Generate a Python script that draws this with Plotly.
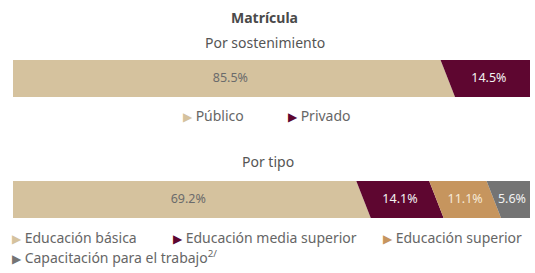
import plotly.graph_objects as go

# ---- data ----
sost_labels = ["Público", "Privado"]
sost_values = [85.5, 14.5]
sost_colors = ["#D5C29E", "#5E0630"]
sost_text_colors = ["#6b6b6b", "#f2f2f2"]

tipo_labels = ["Educación básica", "Educación media superior", "Educación superior",
               "Capacitación para el trabajo<sup>2/</sup>"]
tipo_values = [69.2, 14.1, 11.1, 5.6]
tipo_colors = ["#D5C29E", "#5E0630", "#C6955E", "#747474"]
tipo_text_colors = ["#6b6b6b", "#f2f2f2", "#f7ead7", "#f2f2f2"]

FONT = "Noto Sans"
W, H = 535, 273
SLANT = 2.8  # horizontal lean of segment boundaries (axis units)

fig = go.Figure()


def add_bar(values, colors, tcolors, xa, ya):
    start = 0.0
    n = len(values)
    for i, v in enumerate(values):
        end = start + v
        sb = start
        st = start - SLANT if i > 0 else start
        eb = end
        et = end - SLANT if i < n - 1 else end
        fig.add_trace(go.Scatter(
            x=[sb, eb, et, st, sb], y=[0, 0, 1, 1, 0],
            fill="toself", fillcolor=colors[i], mode="lines",
            line=dict(width=0, color=colors[i]), hoverinfo="skip",
            showlegend=False, xaxis=xa, yaxis=ya))
        cx = (sb + eb + et + st) / 4
        fig.add_trace(go.Scatter(
            x=[cx], y=[0.5], mode="text", text=[f"{v:.1f}%"],
            textfont=dict(family=FONT, size=12.5, color=tcolors[i]),
            hoverinfo="skip", showlegend=False, xaxis=xa, yaxis=ya))
        start = end


add_bar(sost_values, sost_colors, sost_text_colors, "x", "y")
add_bar(tipo_values, tipo_colors, tipo_text_colors, "x2", "y2")


def py(p):
    return 1 - p / H


axcommon = dict(range=[0, 100], visible=False, fixedrange=True)
aycommon = dict(range=[0, 1], visible=False, fixedrange=True)
fig.update_layout(
    width=W, height=H,
    margin=dict(l=0, r=0, t=0, b=0),
    paper_bgcolor="white", plot_bgcolor="white",
    xaxis=dict(domain=[13 / W, 530 / W], anchor="y", **axcommon),
    yaxis=dict(domain=[py(97), py(60)], anchor="x", **aycommon),
    xaxis2=dict(domain=[13 / W, 530 / W], anchor="y2", **axcommon),
    yaxis2=dict(domain=[py(218), py(181)], anchor="x2", **aycommon),
    showlegend=False,
)

ann = []
ann.append(dict(text="<b>Matrícula</b>", x=0.495, y=py(18), xref="paper", yref="paper",
                showarrow=False, font=dict(family=FONT, size=14, color="#4a4a4a"),
                xanchor="center", yanchor="middle"))
ann.append(dict(text="Por sostenimiento", x=0.495, y=py(42), xref="paper", yref="paper",
                showarrow=False, font=dict(family=FONT, size=14, color="#555555"),
                xanchor="center", yanchor="middle"))
ann.append(dict(text="Por tipo", x=0.5, y=py(161), xref="paper", yref="paper",
                showarrow=False, font=dict(family=FONT, size=14, color="#555555"),
                xanchor="center", yanchor="middle"))


def legend_item(label, color, xpx, ypx):
    ann.append(dict(
        text=f"<span style='color:{color};font-size:12px'>▶</span> {label}",
        x=xpx / W, y=py(ypx), xref="paper", yref="paper", showarrow=False,
        font=dict(family=FONT, size=14, color="#666666"),
        xanchor="left", yanchor="middle"))


legend_item(sost_labels[0], sost_colors[0], 181, 115)
legend_item(sost_labels[1], sost_colors[1], 286, 115)

tipo_pos = [(10, 237), (171, 237), (381, 237), (10, 257)]
for lab, col, (xp, yp) in zip(tipo_labels, tipo_colors, tipo_pos):
    legend_item(lab, col, xp, yp)

fig.update_layout(annotations=ann)
fig.write_html("out.html")
